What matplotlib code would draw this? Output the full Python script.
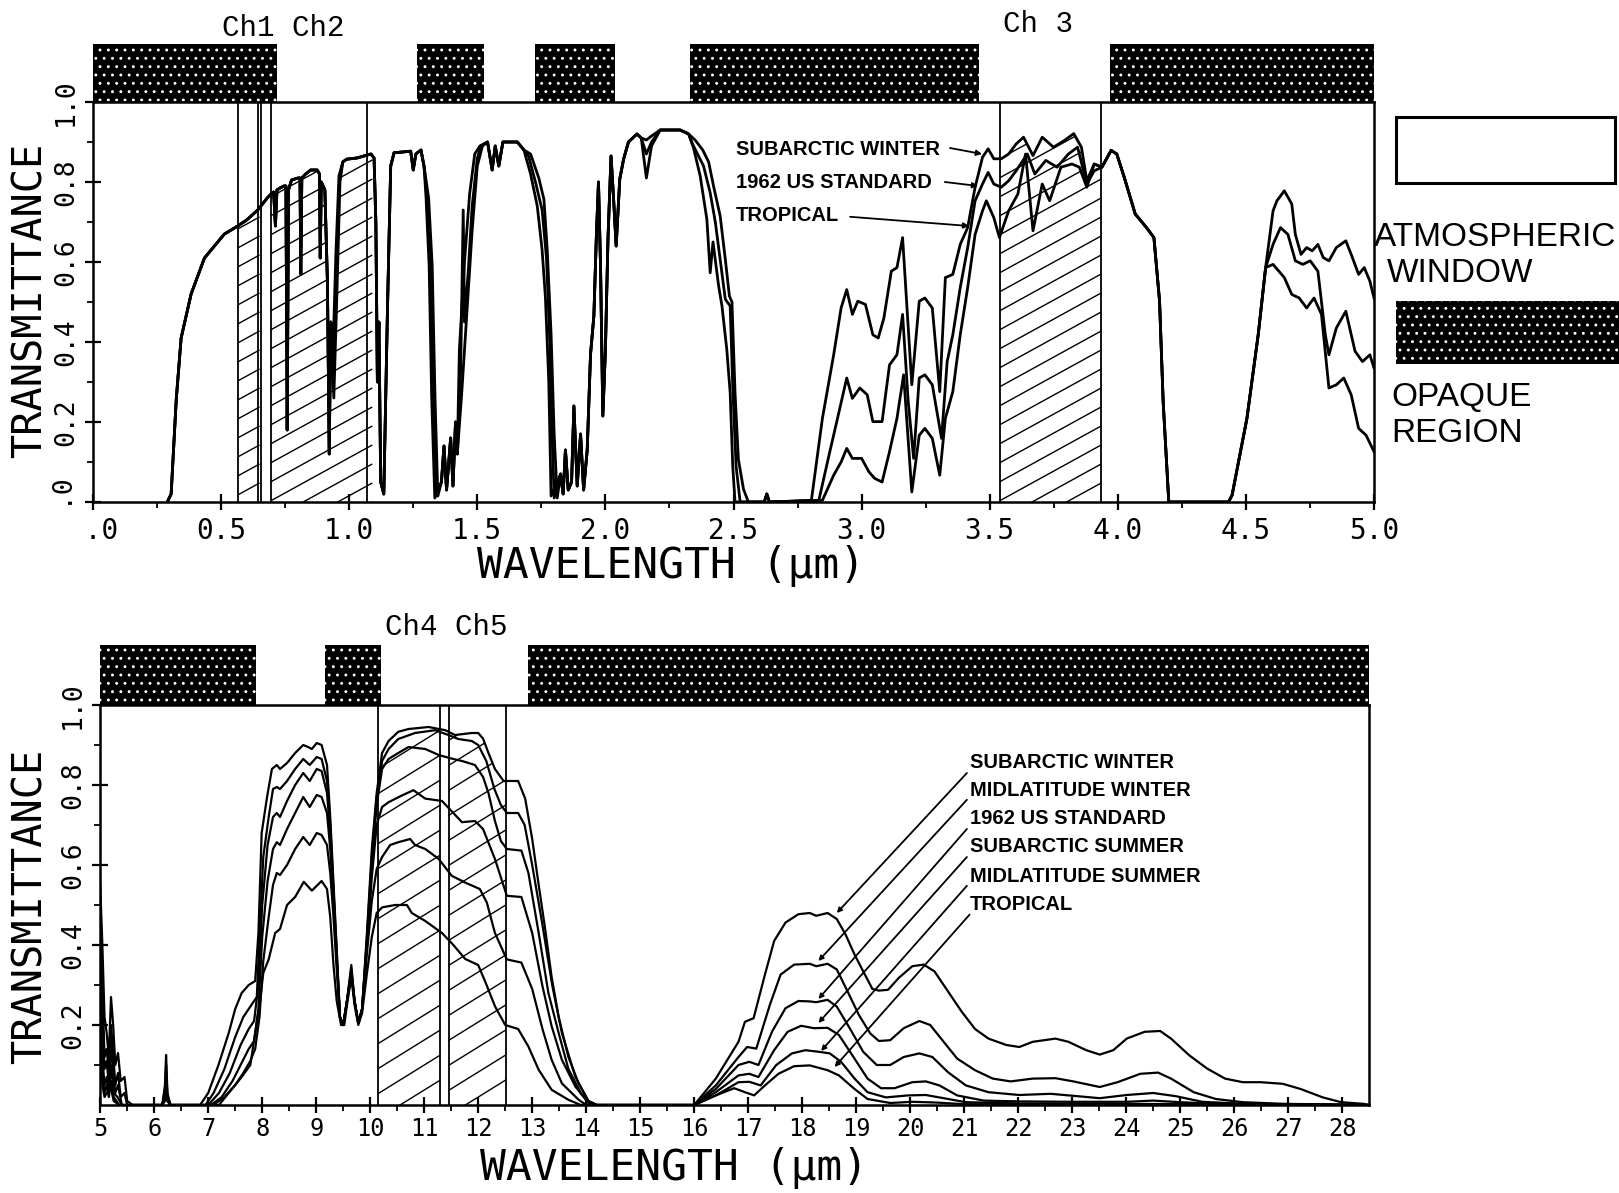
import numpy as np
import matplotlib
matplotlib.use("Agg")
import matplotlib.pyplot as plt
from matplotlib.patches import Rectangle
from matplotlib.collections import LineCollection
from matplotlib import font_manager as fm

# ------------------------------------------------------------------
# DATA  (wavelength in micrometres, transmittance 0..1)
# ------------------------------------------------------------------
# ---- top panel, 0 - 5 um : Subarctic winter (sw), 1962 US standard (us), Tropical (tr)
top_common_a = [(0.29, 0.0), (0.305, 0.02), (0.325, 0.257), (0.344, 0.41), (0.383, 0.52),
                (0.435, 0.61), (0.513, 0.67), (0.565, 0.69), (0.60, 0.705), (0.643, 0.73),
                (0.68, 0.76), (0.695, 0.77), (0.705, 0.775), (0.712, 0.69), (0.718, 0.78),
                (0.73, 0.785), (0.745, 0.79), (0.753, 0.79), (0.758, 0.18), (0.763, 0.78),
                (0.775, 0.805), (0.80, 0.81), (0.808, 0.81), (0.811, 0.57), (0.815, 0.81),
                (0.83, 0.82), (0.85, 0.83), (0.875, 0.83), (0.884, 0.82), (0.887, 0.61),
                (0.891, 0.80), (0.905, 0.78), (0.915, 0.55), (0.922, 0.12), (0.928, 0.45)]
sw_094 = [(0.936, 0.36), (0.948, 0.62), (0.96, 0.815)]
us_094 = [(0.938, 0.30), (0.950, 0.58), (0.962, 0.81)]
tr_094 = [(0.940, 0.26), (0.952, 0.52), (0.964, 0.80)]
top_common_b = [(0.975, 0.85), (0.99, 0.857), (1.03, 0.86), (1.085, 0.87), (1.097, 0.86),
                (1.104, 0.70), (1.110, 0.30), (1.116, 0.45), (1.123, 0.05), (1.135, 0.02),
                (1.142, 0.25), (1.150, 0.50), (1.162, 0.84), (1.175, 0.873), (1.24, 0.877),
                (1.25, 0.83), (1.26, 0.87), (1.28, 0.88), (1.292, 0.84)]
sw_134 = [(1.310, 0.76), (1.324, 0.59), (1.335, 0.26), (1.346, 0.015)]
us_134 = [(1.305, 0.76), (1.318, 0.59), (1.328, 0.26), (1.340, 0.015)]
tr_134 = [(1.300, 0.76), (1.312, 0.59), (1.322, 0.26), (1.334, 0.01)]
top_common_c = [(1.36, 0.05), (1.37, 0.14), (1.38, 0.03), (1.396, 0.16), (1.405, 0.04),
                (1.415, 0.20), (1.422, 0.12)]
sw_145 = [(1.43, 0.38), (1.45, 0.60), (1.47, 0.77), (1.49, 0.87), (1.51, 0.89)]
us_145 = [(1.435, 0.33), (1.445, 0.73), (1.45, 0.45), (1.465, 0.58), (1.48, 0.74),
          (1.50, 0.86), (1.515, 0.89)]
tr_145 = [(1.44, 0.28), (1.46, 0.48), (1.48, 0.68), (1.50, 0.84), (1.52, 0.89)]
top_common_d = [(1.54, 0.90), (1.558, 0.83), (1.57, 0.89), (1.584, 0.84), (1.60, 0.90),
                (1.656, 0.90), (1.682, 0.88)]
sw_180 = [(1.708, 0.87), (1.74, 0.81), (1.76, 0.757), (1.773, 0.63), (1.788, 0.42),
          (1.80, 0.17), (1.812, 0.01)]
us_180 = [(1.70, 0.865), (1.727, 0.80), (1.753, 0.73), (1.77, 0.61), (1.782, 0.42),
          (1.792, 0.17), (1.80, 0.01)]
tr_180 = [(1.708, 0.82), (1.734, 0.74), (1.753, 0.63), (1.766, 0.51), (1.779, 0.30),
          (1.788, 0.015)]
top_common_e = [(1.825, 0.07), (1.835, 0.02), (1.844, 0.13), (1.855, 0.03), (1.868, 0.05),
                (1.877, 0.24), (1.89, 0.04), (1.903, 0.17), (1.915, 0.03), (1.929, 0.13),
                (1.942, 0.37), (1.955, 0.465), (1.965, 0.67), (1.973, 0.80), (1.981, 0.59),
                (1.99, 0.215), (2.0, 0.38), (2.01, 0.657), (2.022, 0.865), (2.032, 0.757),
                (2.042, 0.64), (2.056, 0.807), (2.071, 0.857), (2.09, 0.90), (2.123, 0.92),
                (2.14, 0.91)]
sw_216 = [(2.16, 0.905), (2.18, 0.915)]
us_216 = [(2.16, 0.87), (2.18, 0.90)]
tr_216 = [(2.16, 0.81), (2.18, 0.89)]
top_common_f = [(2.214, 0.93), (2.292, 0.93), (2.325, 0.92)]
sw_250 = [(2.35, 0.905), (2.38, 0.88), (2.403, 0.85), (2.422, 0.79), (2.448, 0.715),
          (2.468, 0.607), (2.484, 0.515), (2.494, 0.50), (2.506, 0.273), (2.519, 0.107),
          (2.539, 0.032), (2.558, 0.0)]
us_250 = [(2.34, 0.895), (2.383, 0.84), (2.409, 0.773), (2.429, 0.70), (2.448, 0.607),
          (2.468, 0.507), (2.487, 0.49), (2.497, 0.29), (2.51, 0.09), (2.526, 0.0)]
tr_250 = [(2.344, 0.885), (2.37, 0.815), (2.396, 0.707), (2.409, 0.573), (2.42, 0.65),
          (2.442, 0.54), (2.455, 0.49), (2.474, 0.38), (2.487, 0.273), (2.497, 0.09),
          (2.506, 0.0)]
top_common_g = [(2.62, 0.0), (2.63, 0.02), (2.64, 0.0)]
sw_300 = [(2.804, 0.004), (2.847, 0.209), (2.891, 0.368), (2.920, 0.485), (2.942, 0.531),
          (2.964, 0.469), (2.985, 0.502), (3.015, 0.494), (3.044, 0.418), (3.065, 0.410),
          (3.087, 0.460), (3.116, 0.577), (3.138, 0.586), (3.160, 0.661), (3.182, 0.435),
          (3.196, 0.293), (3.225, 0.502), (3.247, 0.510), (3.276, 0.485), (3.305, 0.276),
          (3.327, 0.561), (3.356, 0.569), (3.385, 0.644), (3.414, 0.686), (3.443, 0.787),
          (3.472, 0.862), (3.494, 0.883), (3.516, 0.858), (3.545, 0.858), (3.574, 0.870),
          (3.603, 0.895), (3.632, 0.912), (3.669, 0.866), (3.705, 0.912), (3.749, 0.887),
          (3.792, 0.904), (3.828, 0.921), (3.858, 0.887), (3.879, 0.803), (3.908, 0.845),
          (3.938, 0.837)]
us_300 = [(2.833, 0.004), (2.876, 0.126), (2.906, 0.209), (2.942, 0.310), (2.964, 0.259),
          (2.993, 0.285), (3.022, 0.268), (3.044, 0.201), (3.080, 0.201), (3.109, 0.343),
          (3.138, 0.368), (3.160, 0.469), (3.182, 0.251), (3.203, 0.109), (3.225, 0.310),
          (3.247, 0.318), (3.276, 0.293), (3.312, 0.159), (3.334, 0.351), (3.356, 0.418),
          (3.385, 0.536), (3.414, 0.636), (3.443, 0.753), (3.472, 0.795), (3.494, 0.824),
          (3.516, 0.795), (3.545, 0.787), (3.574, 0.803), (3.603, 0.828), (3.647, 0.870),
          (3.676, 0.820), (3.719, 0.854), (3.763, 0.837), (3.807, 0.870), (3.843, 0.887),
          (3.879, 0.795), (3.908, 0.828), (3.938, 0.837)]
tr_300 = [(2.847, 0.004), (2.891, 0.067), (2.920, 0.100), (2.942, 0.134), (2.964, 0.109),
          (3.000, 0.109), (3.029, 0.075), (3.051, 0.059), (3.080, 0.050), (3.109, 0.126),
          (3.138, 0.209), (3.164, 0.318), (3.196, 0.025), (3.225, 0.167), (3.247, 0.184),
          (3.276, 0.159), (3.305, 0.067), (3.327, 0.209), (3.356, 0.276), (3.385, 0.418),
          (3.414, 0.536), (3.443, 0.669), (3.472, 0.728), (3.487, 0.753), (3.516, 0.711),
          (3.538, 0.661), (3.574, 0.728), (3.610, 0.770), (3.640, 0.870), (3.669, 0.678),
          (3.705, 0.795), (3.734, 0.753), (3.778, 0.837), (3.821, 0.845), (3.850, 0.837),
          (3.879, 0.787), (3.908, 0.845), (3.938, 0.837)]
top_common_h = [(3.974, 0.879), (3.996, 0.870), (4.025, 0.812), (4.068, 0.720), (4.112, 0.686),
                (4.141, 0.661), (4.163, 0.502), (4.177, 0.251), (4.199, 0.0), (4.432, 0.0),
                (4.446, 0.017), (4.504, 0.209), (4.548, 0.418), (4.577, 0.586)]
sw_470 = [(4.606, 0.728), (4.621, 0.753), (4.650, 0.778), (4.679, 0.745), (4.693, 0.669),
          (4.715, 0.619), (4.737, 0.636), (4.759, 0.628), (4.781, 0.644), (4.802, 0.611),
          (4.824, 0.603), (4.853, 0.636), (4.890, 0.653), (4.911, 0.619), (4.940, 0.569),
          (4.962, 0.586), (4.984, 0.552), (5.0, 0.510)]
us_470 = [(4.606, 0.644), (4.635, 0.686), (4.664, 0.669), (4.693, 0.603), (4.722, 0.594),
          (4.751, 0.603), (4.781, 0.577), (4.810, 0.418), (4.824, 0.368), (4.853, 0.435),
          (4.890, 0.477), (4.926, 0.377), (4.955, 0.351), (4.984, 0.368), (5.0, 0.335)]
tr_470 = [(4.606, 0.594), (4.650, 0.561), (4.679, 0.519), (4.708, 0.510), (4.737, 0.485),
          (4.766, 0.510), (4.795, 0.469), (4.824, 0.285), (4.853, 0.293), (4.882, 0.310),
          (4.911, 0.268), (4.940, 0.184), (4.969, 0.167), (5.0, 0.126)]

# ---- bottom panel, 5 - 28.5 um : six model atmospheres
sw_5 = [(5.0, 0.55), (5.04, 0.40), (5.08, 0.22), (5.12, 0.18), (5.16, 0.12), (5.2, 0.27),
        (5.24, 0.20), (5.28, 0.10), (5.33, 0.13), (5.38, 0.06), (5.45, 0.07), (5.5, 0.01), (5.6, 0.0)]
mw_5 = [(5.0, 0.45), (5.04, 0.30), (5.08, 0.12), (5.12, 0.14), (5.16, 0.08), (5.2, 0.20),
        (5.24, 0.13), (5.28, 0.05), (5.33, 0.08), (5.38, 0.02), (5.45, 0.03), (5.5, 0.0)]
us_5 = [(5.0, 0.38), (5.04, 0.22), (5.08, 0.09), (5.12, 0.11), (5.16, 0.05), (5.2, 0.15),
        (5.24, 0.08), (5.28, 0.03), (5.33, 0.05), (5.4, 0.0)]
ss_5 = [(5.0, 0.25), (5.04, 0.12), (5.08, 0.05), (5.12, 0.07), (5.16, 0.03), (5.2, 0.10),
        (5.25, 0.03), (5.32, 0.02), (5.4, 0.0)]
ms_5 = [(5.0, 0.15), (5.04, 0.08), (5.08, 0.03), (5.12, 0.05), (5.16, 0.02), (5.2, 0.06),
        (5.25, 0.02), (5.35, 0.0)]
tr_5 = [(5.0, 0.12), (5.04, 0.05), (5.08, 0.02), (5.12, 0.03), (5.2, 0.04), (5.25, 0.01), (5.35, 0.0)]

sw_62 = [(6.15, 0.0), (6.2, 0.05), (6.22, 0.125), (6.245, 0.03), (6.3, 0.0)]
mw_62 = [(6.15, 0.0), (6.2, 0.04), (6.22, 0.10), (6.245, 0.02), (6.3, 0.0)]
us_62 = [(6.15, 0.0), (6.2, 0.03), (6.22, 0.08), (6.245, 0.02), (6.3, 0.0)]
ss_62 = [(6.15, 0.0), (6.2, 0.02), (6.22, 0.05), (6.245, 0.01), (6.3, 0.0)]
ms_62 = [(6.15, 0.0), (6.2, 0.01), (6.22, 0.04), (6.245, 0.01), (6.3, 0.0)]
tr_62 = [(6.15, 0.0), (6.22, 0.03), (6.3, 0.0)]

sw_mid = [(6.85, 0.0), (7.0, 0.03), (7.19, 0.10), (7.38, 0.18), (7.5, 0.24), (7.62, 0.28),
          (7.75, 0.30), (7.87, 0.31), (7.93, 0.43), (7.99, 0.68), (8.09, 0.77), (8.18, 0.84),
          (8.27, 0.85), (8.33, 0.84), (8.46, 0.855), (8.61, 0.88), (8.76, 0.90), (8.85, 0.895),
          (8.92, 0.89), (9.01, 0.905), (9.1, 0.90), (9.2, 0.85), (9.26, 0.72), (9.32, 0.556),
          (9.38, 0.39), (9.44, 0.22), (9.5, 0.2), (9.57, 0.26), (9.65, 0.35), (9.71, 0.26),
          (9.78, 0.205), (9.85, 0.24), (9.94, 0.43), (10.03, 0.64), (10.12, 0.78), (10.22, 0.88),
          (10.34, 0.91), (10.52, 0.933), (10.71, 0.94), (11.08, 0.945), (11.39, 0.937),
          (11.57, 0.925), (11.88, 0.93), (12.0, 0.93), (12.09, 0.916), (12.19, 0.88),
          (12.31, 0.84), (12.47, 0.81), (12.59, 0.81), (12.74, 0.81), (12.87, 0.766),
          (13.0, 0.665), (13.12, 0.55), (13.24, 0.44), (13.36, 0.32), (13.49, 0.22),
          (13.67, 0.12), (13.86, 0.054), (14.04, 0.01), (14.2, 0.0)]
mw_mid = [(6.95, 0.0), (7.1, 0.03), (7.3, 0.09), (7.5, 0.17), (7.65, 0.22), (7.8, 0.25),
          (7.9, 0.27), (7.96, 0.45), (8.02, 0.62), (8.12, 0.72), (8.2, 0.79), (8.27, 0.795),
          (8.33, 0.79), (8.46, 0.81), (8.61, 0.84), (8.76, 0.865), (8.88, 0.85), (9.01, 0.87),
          (9.1, 0.865), (9.2, 0.81), (9.26, 0.70), (9.32, 0.54), (9.38, 0.38), (9.44, 0.22),
          (9.5, 0.2), (9.57, 0.26), (9.65, 0.34), (9.71, 0.26), (9.78, 0.205), (9.85, 0.24),
          (9.94, 0.42), (10.03, 0.62), (10.12, 0.77), (10.22, 0.86), (10.34, 0.89),
          (10.52, 0.915), (10.83, 0.93), (11.2, 0.937), (11.45, 0.925), (11.63, 0.915),
          (11.88, 0.91), (12.0, 0.90), (12.15, 0.86), (12.3, 0.79), (12.42, 0.75),
          (12.53, 0.73), (12.74, 0.73), (12.86, 0.70), (13.0, 0.60), (13.19, 0.45),
          (13.37, 0.30), (13.55, 0.18), (13.8, 0.07), (14.04, 0.01), (14.2, 0.0)]
us_mid = [(7.0, 0.0), (7.2, 0.03), (7.4, 0.08), (7.6, 0.15), (7.75, 0.19), (7.85, 0.21),
          (7.93, 0.30), (8.0, 0.50), (8.1, 0.65), (8.2, 0.72), (8.27, 0.73), (8.33, 0.72),
          (8.46, 0.76), (8.61, 0.80), (8.76, 0.83), (8.88, 0.81), (9.01, 0.84), (9.1, 0.835),
          (9.2, 0.78), (9.26, 0.68), (9.32, 0.53), (9.38, 0.37), (9.44, 0.22), (9.5, 0.2),
          (9.57, 0.26), (9.65, 0.33), (9.71, 0.26), (9.78, 0.205), (9.85, 0.24), (9.94, 0.41),
          (10.03, 0.60), (10.12, 0.75), (10.22, 0.84), (10.34, 0.865), (10.52, 0.88),
          (10.71, 0.895), (11.02, 0.89), (11.27, 0.875), (11.51, 0.866), (11.7, 0.86),
          (11.94, 0.85), (12.09, 0.82), (12.19, 0.78), (12.31, 0.71), (12.42, 0.66),
          (12.53, 0.64), (12.8, 0.636), (12.93, 0.58), (13.12, 0.43), (13.3, 0.28),
          (13.49, 0.18), (13.67, 0.09), (13.9, 0.03), (14.1, 0.0)]
ss_mid = [(7.05, 0.0), (7.25, 0.02), (7.45, 0.06), (7.6, 0.10), (7.75, 0.14), (7.85, 0.16),
          (7.93, 0.24), (8.0, 0.42), (8.1, 0.56), (8.2, 0.64), (8.27, 0.657), (8.33, 0.65),
          (8.46, 0.69), (8.61, 0.73), (8.76, 0.77), (8.88, 0.745), (9.01, 0.775), (9.1, 0.77),
          (9.2, 0.73), (9.26, 0.64), (9.32, 0.51), (9.38, 0.36), (9.44, 0.22), (9.5, 0.2),
          (9.57, 0.26), (9.65, 0.33), (9.71, 0.26), (9.78, 0.205), (9.85, 0.24), (9.94, 0.40),
          (10.03, 0.57), (10.12, 0.70), (10.22, 0.745), (10.34, 0.757), (10.59, 0.774),
          (10.8, 0.787), (11.02, 0.766), (11.33, 0.76), (11.54, 0.73), (11.7, 0.707),
          (11.94, 0.71), (12.09, 0.69), (12.31, 0.615), (12.53, 0.523), (12.8, 0.52),
          (13.0, 0.43), (13.19, 0.297), (13.36, 0.197), (13.55, 0.113), (13.8, 0.046),
          (14.04, 0.005), (14.2, 0.0)]
ms_mid = [(7.1, 0.0), (7.3, 0.02), (7.5, 0.05), (7.65, 0.08), (7.78, 0.11), (7.87, 0.14),
          (7.95, 0.22), (8.02, 0.36), (8.12, 0.47), (8.2, 0.55), (8.27, 0.58), (8.33, 0.575),
          (8.46, 0.60), (8.61, 0.64), (8.76, 0.67), (8.88, 0.65), (9.01, 0.68), (9.1, 0.675),
          (9.2, 0.65), (9.26, 0.58), (9.32, 0.47), (9.38, 0.34), (9.44, 0.22), (9.5, 0.2),
          (9.57, 0.26), (9.65, 0.33), (9.71, 0.26), (9.78, 0.205), (9.85, 0.24), (9.94, 0.38),
          (10.03, 0.51), (10.12, 0.59), (10.22, 0.62), (10.37, 0.65), (10.52, 0.657),
          (10.74, 0.665), (10.83, 0.65), (11.02, 0.64), (11.27, 0.615), (11.51, 0.573),
          (11.76, 0.556), (12.03, 0.54), (12.16, 0.506), (12.31, 0.43), (12.53, 0.364),
          (12.8, 0.356), (13.0, 0.29), (13.19, 0.19), (13.36, 0.113), (13.55, 0.054),
          (13.86, 0.013), (14.0, 0.0)]
tr_mid = [(7.2, 0.0), (7.38, 0.03), (7.62, 0.07), (7.78, 0.10), (7.87, 0.18), (7.96, 0.26),
          (8.02, 0.33), (8.12, 0.364), (8.24, 0.43), (8.33, 0.44), (8.46, 0.50), (8.61, 0.52),
          (8.77, 0.558), (8.92, 0.536), (9.1, 0.56), (9.2, 0.54), (9.26, 0.47), (9.32, 0.35),
          (9.38, 0.26), (9.46, 0.2), (9.52, 0.2), (9.57, 0.25), (9.65, 0.32), (9.71, 0.25),
          (9.78, 0.2), (9.85, 0.23), (9.94, 0.33), (10.03, 0.42), (10.12, 0.48), (10.22, 0.494),
          (10.46, 0.50), (10.68, 0.50), (10.77, 0.48), (11.02, 0.46), (11.33, 0.43),
          (11.54, 0.40), (11.76, 0.365), (12.0, 0.35), (12.14, 0.305), (12.31, 0.247),
          (12.5, 0.2), (12.74, 0.19), (12.93, 0.146), (13.12, 0.088), (13.36, 0.038),
          (13.67, 0.013), (13.9, 0.0)]

sw_far = [(16.0, 0.0), (16.4, 0.066), (16.82, 0.158), (16.94, 0.208), (17.1, 0.217), (17.31, 0.326),
          (17.48, 0.41), (17.69, 0.456), (17.93, 0.477), (18.14, 0.48), (18.26, 0.473), (18.47, 0.48),
          (18.64, 0.465), (18.8, 0.427), (18.97, 0.376), (19.13, 0.334), (19.3, 0.29), (19.42, 0.286),
          (19.59, 0.288), (19.79, 0.318), (20.04, 0.347), (20.25, 0.351), (20.45, 0.334),
          (20.7, 0.284), (20.95, 0.234), (21.2, 0.19), (21.45, 0.166), (21.78, 0.15), (22.02, 0.145),
          (22.27, 0.158), (22.69, 0.166), (22.93, 0.158), (23.26, 0.137), (23.51, 0.126),
          (23.76, 0.137), (24.01, 0.166), (24.34, 0.183), (24.63, 0.185), (24.83, 0.166),
          (25.17, 0.124), (25.5, 0.091), (25.83, 0.066), (26.16, 0.057), (26.49, 0.057),
          (26.9, 0.053), (27.23, 0.04), (27.64, 0.019), (27.98, 0.007), (28.39, 0.003), (28.5, 0.0)]
mw_far = [(16.0, 0.0), (16.4, 0.049), (16.82, 0.12), (16.98, 0.145), (17.15, 0.141), (17.4, 0.25),
          (17.6, 0.326), (17.85, 0.351), (18.14, 0.353), (18.26, 0.347), (18.47, 0.353),
          (18.64, 0.339), (18.84, 0.284), (19.05, 0.225), (19.26, 0.179), (19.42, 0.16),
          (19.63, 0.162), (19.88, 0.192), (20.17, 0.21), (20.37, 0.2), (20.62, 0.158),
          (20.87, 0.116), (21.2, 0.087), (21.53, 0.066), (21.86, 0.059), (22.27, 0.066),
          (22.69, 0.067), (23.02, 0.059), (23.51, 0.045), (23.84, 0.057), (24.26, 0.078),
          (24.59, 0.081), (24.83, 0.066), (25.25, 0.032), (25.66, 0.015), (26.16, 0.007),
          (26.9, 0.003), (28.5, 0.0)]
us_far = [(16.0, 0.0), (16.4, 0.04), (16.82, 0.1), (17.02, 0.108), (17.19, 0.1), (17.44, 0.183),
          (17.69, 0.242), (17.93, 0.26), (18.14, 0.259), (18.26, 0.257), (18.47, 0.263),
          (18.64, 0.246), (18.88, 0.192), (19.13, 0.133), (19.38, 0.1), (19.63, 0.1),
          (19.88, 0.12), (20.17, 0.129), (20.41, 0.12), (20.7, 0.082), (21.03, 0.049),
          (21.45, 0.032), (22.02, 0.025), (22.6, 0.028), (23.1, 0.022), (23.51, 0.017),
          (24.01, 0.025), (24.5, 0.03), (24.92, 0.022), (25.41, 0.008), (26.16, 0.003), (28.5, 0.0)]
ss_far = [(16.0, 0.0), (16.4, 0.032), (16.82, 0.074), (17.02, 0.078), (17.19, 0.07), (17.48, 0.137),
          (17.73, 0.183), (17.98, 0.198), (18.22, 0.192), (18.47, 0.193), (18.68, 0.175),
          (18.93, 0.124), (19.21, 0.066), (19.46, 0.042), (19.71, 0.042), (20.04, 0.057),
          (20.29, 0.059), (20.54, 0.049), (20.87, 0.024), (21.36, 0.011), (22.02, 0.009),
          (23.0, 0.008), (24.01, 0.008), (24.5, 0.011), (25.0, 0.007), (25.66, 0.003), (28.5, 0.0)]
ms_far = [(16.0, 0.0), (16.4, 0.024), (16.82, 0.057), (17.02, 0.058), (17.23, 0.049), (17.52, 0.1),
          (17.81, 0.129), (18.06, 0.137), (18.31, 0.133), (18.51, 0.129), (18.72, 0.108),
          (18.97, 0.066), (19.21, 0.032), (19.55, 0.019), (19.96, 0.024), (20.29, 0.025),
          (20.62, 0.017), (21.03, 0.007), (22.0, 0.004), (28.5, 0.0)]
tr_far = [(16.0, 0.0), (16.4, 0.024), (16.74, 0.042), (16.94, 0.032), (17.11, 0.024), (17.31, 0.049),
          (17.56, 0.078), (17.85, 0.097), (18.14, 0.099), (18.47, 0.087), (18.68, 0.074),
          (18.97, 0.04), (19.21, 0.015), (19.63, 0.005), (20.04, 0.008), (20.5, 0.006),
          (21.0, 0.002), (28.5, 0.0)]

# ---- opaque regions, channels, labels
top_opaque = [(0.0, 0.72), (1.265, 1.528), (1.727, 2.038), (2.33, 3.46), (3.97, 5.0)]
bot_opaque = [(5.0, 7.88), (9.17, 10.2), (12.93, 28.5)]
top_channels = [(0.565, 0.650), (0.695, 1.09), (3.54, 3.935)]
top_channel_lines = [0.565, 0.643, 0.656, 0.695, 1.071, 3.54, 3.935]
bot_channels = [(10.15, 11.30), (11.45, 12.51)]
bot_channel_lines = [10.15, 11.30, 11.45, 12.51]

top_names = ["SUBARCTIC WINTER", "1962 US STANDARD", "TROPICAL"]
top_label_y = [0.88, 0.7975, 0.715]
top_leader_start = [(3.345, 0.885), (3.325, 0.80), (2.955, 0.713)]
top_leader_end = [(3.47, 0.87), (3.455, 0.79), (3.42, 0.69)]

bot_names = ["SUBARCTIC WINTER", "MIDLATITUDE WINTER", "1962 US STANDARD",
             "SUBARCTIC SUMMER", "MIDLATITUDE SUMMER", "TROPICAL"]
bot_label_y = [0.855, 0.7875, 0.715, 0.645, 0.5725, 0.50]
bot_leader_start = [(21.05, 0.83), (21.05, 0.763), (21.05, 0.69), (21.05, 0.62), (21.05, 0.548), (21.1, 0.476)]
bot_leader_end = [(18.64, 0.48), (18.3, 0.36), (18.3, 0.265), (18.3, 0.205), (18.35, 0.135), (18.6, 0.095)]

top_xticks = [0.0, 0.5, 1.0, 1.5, 2.0, 2.5, 3.0, 3.5, 4.0, 4.5, 5.0]
top_xticklabels = [" .0", "0.5", "1.0", "1.5", "2.0", "2.5", "3.0", "3.5", "4.0", "4.5", "5.0"]
top_yticks = [0.0, 0.2, 0.4, 0.6, 0.8, 1.0]
top_yticklabels = [" .0", "0.2", "0.4", "0.6", "0.8", "1.0"]
bot_xticks = list(range(5, 29))
bot_yticks = [0.2, 0.4, 0.6, 0.8, 1.0]
bot_yticklabels = ["0.2", "0.4", "0.6", "0.8", "1.0"]

# ------------------------------------------------------------------
W, H, DPI = 1619, 1193, 100
plt.rcParams["hatch.linewidth"] = 0.9
names = {f.name for f in fm.fontManager.ttflist}
LEG_FONT = "Liberation Sans Narrow" if "Liberation Sans Narrow" in names else "Liberation Sans"
LEG_SIZE = 28 if LEG_FONT.endswith("Narrow") else 24
MONO = "DejaVu Sans Mono"


def xy(seq):
    a = np.array(seq, dtype=float)
    return a[:, 0], a[:, 1]


def join(*parts):
    out = []
    for p in parts:
        out += p
    return xy(out)


fig = plt.figure(figsize=(W / DPI, H / DPI), dpi=DPI)
fig.patch.set_facecolor("white")

ax1 = fig.add_axes([93 / W, 1 - 502 / H, 1281 / W, 400 / H])
ax2 = fig.add_axes([100.2 / W, 1 - 1105 / H, 1269 / W, 400 / H])

top_curves = {
    "sw": join(top_common_a, sw_094, top_common_b, sw_134, top_common_c, sw_145, top_common_d,
               sw_180, top_common_e, sw_216, top_common_f, sw_250, top_common_g, sw_300,
               top_common_h, sw_470),
    "us": join(top_common_a, us_094, top_common_b, us_134, top_common_c, us_145, top_common_d,
               us_180, top_common_e, us_216, top_common_f, us_250, top_common_g, us_300,
               top_common_h, us_470),
    "tr": join(top_common_a, tr_094, top_common_b, tr_134, top_common_c, tr_145, top_common_d,
               tr_180, top_common_e, tr_216, top_common_f, tr_250, top_common_g, tr_300,
               top_common_h, tr_470),
}
bot_curves = {
    "sw": join(sw_5, sw_62, sw_mid, sw_far),
    "mw": join(mw_5, mw_62, mw_mid, mw_far),
    "us": join(us_5, us_62, us_mid, us_far),
    "ss": join(ss_5, ss_62, ss_mid, ss_far),
    "ms": join(ms_5, ms_62, ms_mid, ms_far),
    "tr": join(tr_5, tr_62, tr_mid, tr_far),
}


def hatch_band(ax, x0, x1, cx, cy, slope_px, step_px, px_x, px_y):
    under = ax.fill_between(cx, 0, cy, facecolor="none", edgecolor="none", linewidth=0)
    clip = under.get_paths()[0]
    s = slope_px * px_x / px_y
    dy = step_px / px_y
    span = s * (x1 - x0)
    segs = [[(x0, c), (x1, c + span)] for c in np.arange(-span, 1.0 + dy, dy)]
    lc = LineCollection(segs, colors="k", linewidths=1.0, zorder=2)
    ax.add_collection(lc)
    lc.set_clip_path(clip, ax.transData)


def opaque_bars(ax, spans, height):
    for a, b in spans:
        r = Rectangle((a, 1.0), b - a, height, transform=ax.get_xaxis_transform(),
                      facecolor="black", edgecolor="white", hatch="..", linewidth=0,
                      clip_on=False, zorder=1)
        ax.add_patch(r)


# ---------------- top panel ----------------
ax = ax1
for k in ["tr", "us", "sw"]:
    ax.plot(*top_curves[k], color="black", lw=2.0, zorder=3)
for a, b in top_channels:
    hatch_band(ax, a, b, *top_curves["sw"], slope_px=0.55, step_px=19, px_x=256.2, px_y=400)
for x in top_channel_lines:
    ax.axvline(x, color="black", lw=1.3, zorder=3)
opaque_bars(ax, top_opaque, 0.145)
ax.set_xlim(0, 5)
ax.set_ylim(0, 1)
ax.set_xticks(top_xticks)
ax.set_xticklabels(top_xticklabels, fontfamily=MONO, fontsize=20)
ax.set_xticks(np.arange(0.25, 5.0, 0.5), minor=True)
ax.set_yticks(top_yticks)
ax.set_yticklabels(top_yticklabels, fontfamily=MONO, fontsize=19, rotation=90, va="center")
ax.set_yticks(np.arange(0.1, 1.0, 0.2), minor=True)
for i, name in enumerate(top_names):
    ax.text(2.51, top_label_y[i], name, fontfamily="Liberation Sans", fontweight="bold",
            fontsize=14.5, va="center", ha="left", zorder=5)
    ax.annotate("", xy=top_leader_end[i], xytext=top_leader_start[i],
                arrowprops=dict(arrowstyle="-|>", color="black", lw=1.3, mutation_scale=8,
                                shrinkA=0, shrinkB=0), zorder=5)

# ---------------- bottom panel ----------------
ax = ax2
for k in ["tr", "ms", "ss", "us", "mw", "sw"]:
    ax.plot(*bot_curves[k], color="black", lw=1.6, zorder=3)
for a, b in bot_channels:
    hatch_band(ax, a, b, *bot_curves["sw"], slope_px=0.62, step_px=25, px_x=54.0, px_y=400)
for x in bot_channel_lines:
    ax.axvline(x, color="black", lw=1.3, zorder=3)
opaque_bars(ax, bot_opaque, 0.15)
ax.set_xlim(5, 28.5)
ax.set_ylim(0, 1)
ax.set_xticks(bot_xticks)
ax.set_xticklabels([str(v) for v in bot_xticks], fontfamily=MONO, fontsize=17)
ax.set_xticks(np.arange(5.5, 28.5, 1.0), minor=True)
ax.set_yticks(bot_yticks)
ax.set_yticklabels(bot_yticklabels, fontfamily=MONO, fontsize=19, rotation=90, va="center")
ax.set_yticks(np.arange(0.1, 1.0, 0.2), minor=True)
for i, name in enumerate(bot_names):
    ax.text(21.1, bot_label_y[i], name, fontfamily="Liberation Sans", fontweight="bold",
            fontsize=14.5, va="center", ha="left", zorder=5)
    ax.annotate("", xy=bot_leader_end[i], xytext=bot_leader_start[i],
                arrowprops=dict(arrowstyle="-|>", color="black", lw=1.3, mutation_scale=7,
                                shrinkA=0, shrinkB=0), zorder=5)

for ax in (ax1, ax2):
    for sp in ax.spines.values():
        sp.set_linewidth(1.8)
        sp.set_zorder(4)
    ax.tick_params(which="major", direction="inout", length=12, width=1.6, color="black")
    ax.tick_params(which="minor", direction="out", length=4, width=1.3, color="black")
ax1.tick_params(axis="x", which="major", pad=5)
ax1.tick_params(axis="y", which="major", pad=4)
ax2.tick_params(axis="x", which="major", pad=2.5)
ax2.tick_params(axis="y", which="major", pad=4)

# axis titles
fig.text(671 / W, 1 - 566 / H, "WAVELENGTH (μm)", fontfamily=MONO, fontsize=31,
         ha="center", va="center")
fig.text(674 / W, 1 - 1168 / H, "WAVELENGTH (μm)", fontfamily=MONO, fontsize=31,
         ha="center", va="center")
fig.text(31 / W, 1 - 300 / H, "TRANSMITTANCE", fontfamily=MONO, fontsize=29,
         rotation=90, ha="center", va="center")
fig.text(31 / W, 1 - 906 / H, "TRANSMITTANCE", fontfamily=MONO, fontsize=29,
         rotation=90, ha="center", va="center")

# channel names
fig.text(283 / W, 1 - 28 / H, "Ch1 Ch2", fontfamily="Liberation Mono", fontsize=21,
         ha="center", va="center")
fig.text(1038 / W, 1 - 24 / H, "Ch 3", fontfamily="Liberation Mono", fontsize=21,
         ha="center", va="center")
fig.text(446 / W, 1 - 627 / H, "Ch4 Ch5", fontfamily="Liberation Mono", fontsize=21,
         ha="center", va="center")

# legend boxes
fig.add_artist(Rectangle((1396 / W, 1 - 183 / H), 219 / W, 66 / H, transform=fig.transFigure,
                         facecolor="white", edgecolor="black", linewidth=2.2))
fig.add_artist(Rectangle((1396 / W, 1 - 364 / H), 223 / W, 63 / H, transform=fig.transFigure,
                         facecolor="black", edgecolor="white", hatch="..", linewidth=0))
fig.text(1374 / W, 1 - 237 / H, "ATMOSPHERIC", fontfamily=LEG_FONT, fontsize=LEG_SIZE,
         ha="left", va="center")
fig.text(1387 / W, 1 - 274 / H, "WINDOW", fontfamily=LEG_FONT, fontsize=LEG_SIZE,
         ha="left", va="center")
fig.text(1391 / W, 1 - 397 / H, "OPAQUE", fontfamily=LEG_FONT, fontsize=LEG_SIZE,
         ha="left", va="center")
fig.text(1391 / W, 1 - 434 / H, "REGION", fontfamily=LEG_FONT, fontsize=LEG_SIZE,
         ha="left", va="center")

fig.savefig("out.png", dpi=DPI, facecolor="white")
